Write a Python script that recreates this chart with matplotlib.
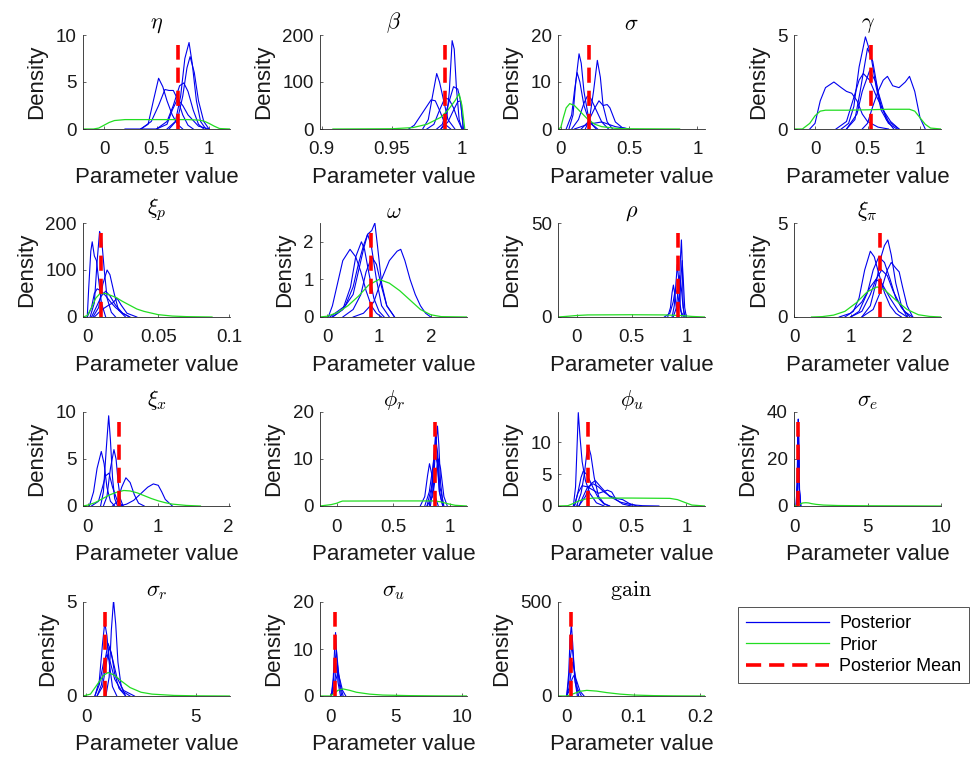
# -*- coding: utf-8 -*-
r"""
Posterior / prior density grid for the estimated model parameters.
"""

#%% Imports
import matplotlib
matplotlib.use('Agg')
import matplotlib.pyplot as plt
from matplotlib.lines import Line2D
from matplotlib.ticker import FormatStrFormatter

plt.rcParams['font.family'] = ['Liberation Sans', 'DejaVu Sans']
plt.rcParams['mathtext.fontset'] = 'cm'

#%% Data
# each posterior chain is (x points, density values); prior is one curve; mean is a scalar
ETA_POST = [
    ([0.35, 0.42, 0.47, 0.52, 0.56, 0.60, 0.65, 0.70, 0.75], [0, 0.5, 3.0, 5.4, 4.5, 3.0, 1.5, 0.5, 0]),
    ([0.35, 0.45, 0.52, 0.58, 0.62, 0.66, 0.70, 0.75, 0.80, 0.85], [0, 0.8, 2.5, 4.2, 4.1, 4.1, 3.2, 1.5, 0.4, 0]),
    ([0.50, 0.60, 0.66, 0.72, 0.76, 0.80, 0.85, 0.90, 0.95], [0, 0.8, 2.5, 4.6, 4.9, 4.0, 2.0, 0.5, 0]),
    ([0.60, 0.68, 0.73, 0.77, 0.81, 0.84, 0.88, 0.92, 0.97], [0, 0.8, 3.5, 7.5, 9.2, 7.0, 3.0, 0.8, 0]),
    ([0.62, 0.70, 0.75, 0.79, 0.82, 0.86, 0.90, 0.95, 1.00], [0, 1.0, 3.5, 6.5, 7.7, 6.0, 3.0, 0.8, 0]),
    ([0.20, 0.50, 0.60, 0.65, 0.70, 0.75, 0.80, 0.90, 1.00], [0, 0, 0.5, 2.0, 3.2, 2.5, 1.5, 0.3, 0]),
]
ETA_PRIOR = ([-0.2, -0.1, -0.05, 0, 0.05, 0.1, 0.2, 0.5, 0.8, 0.9, 0.95, 1.0, 1.05, 1.1, 1.2],
             [0, 0, 0.1, 0.4, 0.7, 0.9, 1.0, 1.0, 1.0, 0.95, 0.85, 0.6, 0.3, 0.05, 0])
ETA_MEAN = 0.70

BETA_POST = [
    ([0.985, 0.989, 0.991, 0.993, 0.9945, 0.996, 0.998, 1.0], [0, 20, 80, 188, 170, 90, 20, 0]),
    ([0.972, 0.976, 0.979, 0.982, 0.984, 0.987, 0.990, 0.995], [0, 20, 70, 118, 100, 60, 20, 0]),
    ([0.962, 0.966, 0.972, 0.978, 0.981, 0.984, 0.988, 0.992], [0, 8, 35, 62, 60, 40, 10, 0]),
    ([0.982, 0.986, 0.990, 0.994, 0.997, 0.999, 1.0, 1.001], [0, 10, 50, 90, 85, 60, 30, 0]),
    ([0.975, 0.980, 0.984, 0.988, 0.991, 0.994, 0.997, 1.0], [0, 10, 40, 67, 62, 45, 20, 0]),
    ([0.985, 0.990, 0.994, 0.997, 0.999, 1.0, 1.001], [0, 15, 40, 58, 60, 30, 0]),
]
BETA_PRIOR = ([0.908, 0.95, 0.965, 0.975, 0.985, 0.99, 0.995, 0.998, 1.0, 1.002],
              [0, 0.5, 3, 10, 25, 40, 60, 75, 50, 0])
BETA_MEAN = 0.988

SIGMA_POST = [
    ([0.06, 0.09, 0.11, 0.134, 0.15, 0.17, 0.20, 0.23, 0.27], [0, 3, 10, 16, 14, 8, 3, 1, 0]),
    ([0.18, 0.21, 0.24, 0.268, 0.29, 0.31, 0.34, 0.38], [0, 2, 8, 14.6, 11, 5, 1.5, 0]),
    ([0.08, 0.13, 0.17, 0.195, 0.22, 0.26, 0.30, 0.35], [0, 2, 5.5, 7, 6.5, 4, 1.5, 0]),
    ([0.15, 0.20, 0.25, 0.28, 0.31, 0.34, 0.36, 0.40, 0.45, 0.50], [0, 1.5, 4.5, 6, 5, 5.2, 4.5, 1.5, 0.3, 0]),
    ([0.04, 0.08, 0.10, 0.12, 0.14, 0.17, 0.21, 0.26], [0, 3, 8, 12, 10, 5, 1.5, 0]),
    ([0.10, 0.20, 0.30, 0.40, 0.50], [0, 1, 1.5, 0.5, 0]),
]
SIGMA_PRIOR = ([-0.02, 0, 0.02, 0.04, 0.066, 0.1, 0.15, 0.2, 0.25, 0.3, 0.4, 0.5, 0.87],
               [0, 0.3, 2.5, 4.5, 5.4, 5.0, 3.5, 2.0, 1.0, 0.5, 0.15, 0.05, 0])
SIGMA_MEAN = 0.207

GAMMA_POST = [
    ([-0.05, 0, 0.05, 0.1, 0.18, 0.25, 0.3, 0.35, 0.4, 0.45, 0.5, 0.6, 0.7], [0, 0.3, 1.5, 2.2, 2.5, 2.2, 2.0, 1.9, 1.5, 0.8, 0.4, 0.1, 0]),
    ([0.25, 0.32, 0.37, 0.42, 0.48, 0.53, 0.58, 0.63, 0.70, 0.78], [0, 0.3, 1.2, 3.3, 4.9, 4.0, 2.3, 1.0, 0.3, 0]),
    ([0.20, 0.30, 0.36, 0.42, 0.46, 0.52, 0.58, 0.65, 0.72, 0.80], [0, 0.4, 1.5, 2.6, 2.95, 2.6, 1.8, 1.0, 0.4, 0]),
    ([0.30, 0.40, 0.45, 0.52, 0.58, 0.63, 0.70, 0.80], [0, 0.8, 2.0, 3.1, 2.5, 1.2, 0.4, 0]),
    ([0.45, 0.50, 0.55, 0.60, 0.65, 0.69, 0.74, 0.80, 0.86, 0.90, 0.95, 1.0, 1.05], [0, 0.3, 1.2, 2.0, 2.6, 2.8, 2.3, 2.2, 2.5, 2.8, 2.0, 0.6, 0]),
    ([0.30, 0.38, 0.43, 0.50, 0.55, 0.60, 0.68, 0.75], [0, 0.5, 2.0, 4.3, 3.6, 2.0, 0.5, 0]),
]
GAMMA_PRIOR = ([-0.2, -0.12, -0.05, 0, 0.05, 0.1, 0.3, 0.5, 0.7, 0.9, 0.95, 1.0, 1.05, 1.1, 1.2],
               [0, 0, 0.3, 0.7, 0.95, 1.0, 1.0, 1.02, 1.05, 1.05, 0.95, 0.6, 0.25, 0.05, 0])
GAMMA_MEAN = 0.53

XIP_POST = [
    ([0, 0.001, 0.0025, 0.0035, 0.005, 0.0065, 0.008, 0.010, 0.013], [0, 60, 140, 160, 130, 120, 80, 30, 0]),
    ([0.002, 0.005, 0.007, 0.0087, 0.010, 0.012, 0.014, 0.017, 0.020], [0, 30, 120, 182, 170, 100, 40, 10, 0]),
    ([0.004, 0.008, 0.011, 0.014, 0.016, 0.019, 0.022, 0.027], [0, 20, 70, 100, 90, 50, 15, 0]),
    ([0, 0.003, 0.005, 0.007, 0.010, 0.013, 0.017, 0.020, 0.025, 0.030], [0, 20, 50, 60, 55, 45, 30, 20, 8, 0]),
    ([0.005, 0.010, 0.015, 0.018, 0.021, 0.024, 0.028, 0.035], [0, 15, 25, 30, 40, 25, 8, 0]),
    ([0.003, 0.007, 0.010, 0.013, 0.016, 0.020, 0.025, 0.030], [0, 25, 45, 55, 45, 25, 8, 0]),
]
XIP_PRIOR = ([-0.003, 0, 0.003, 0.006, 0.009, 0.013, 0.02, 0.025, 0.03, 0.035, 0.04, 0.05, 0.06, 0.07, 0.088],
             [0, 3, 20, 40, 50, 50, 42, 33, 25, 17, 12, 5, 2, 0.8, 0])
XIP_MEAN = 0.0099

OMEGA_POST = [
    ([0.02, 0.1, 0.2, 0.3, 0.44, 0.55, 0.65, 0.75, 0.85, 0.95, 1.05], [0, 0.3, 0.9, 1.5, 1.8, 1.6, 1.2, 0.7, 0.3, 0.1, 0]),
    ([0.1, 0.3, 0.45, 0.55, 0.66, 0.72, 0.8, 0.9, 1.0, 1.1], [0, 0.2, 0.8, 1.6, 2.0, 1.8, 1.2, 0.5, 0.15, 0]),
    ([0.1, 0.3, 0.5, 0.6, 0.7, 0.78, 0.86, 0.92, 0.97, 1.05, 1.15, 1.3], [0, 0.2, 0.6, 1.2, 1.8, 2.2, 2.3, 2.5, 1.9, 0.9, 0.3, 0]),
    ([0.3, 0.5, 0.65, 0.75, 0.86, 0.95, 1.05, 1.15, 1.3], [0, 0.2, 0.6, 1.2, 1.6, 1.4, 0.8, 0.3, 0]),
    ([0.5, 0.7, 0.9, 1.05, 1.2, 1.35, 1.42, 1.5, 1.6, 1.7, 1.8, 1.9, 2.0], [0, 0.1, 0.4, 1.0, 1.5, 1.75, 1.8, 1.5, 1.0, 0.6, 0.3, 0.1, 0]),
    ([0.05, 0.2, 0.35, 0.5, 0.6, 0.7, 0.78, 0.85, 0.95, 1.05, 1.2], [0, 0.15, 0.3, 0.8, 1.4, 1.9, 2.2, 1.9, 1.0, 0.3, 0]),
]
OMEGA_PRIOR = ([-0.14, 0, 0.2, 0.4, 0.6, 0.8, 1.0, 1.2, 1.4, 1.6, 1.8, 2.0, 2.2, 2.7],
               [0, 0.02, 0.12, 0.3, 0.55, 0.85, 1.0, 0.9, 0.7, 0.45, 0.2, 0.06, 0.01, 0])
OMEGA_MEAN = 0.845

RHO_POST = [
    ([0.92, 0.935, 0.945, 0.955, 0.962, 0.97, 0.98], [0, 10, 30, 41, 30, 8, 0]),
    ([0.83, 0.855, 0.87, 0.882, 0.895, 0.91, 0.93], [0, 5, 13, 17, 12, 4, 0]),
    ([0.87, 0.89, 0.905, 0.918, 0.93, 0.945, 0.96], [0, 6, 18, 28, 20, 6, 0]),
    ([0.88, 0.91, 0.925, 0.94, 0.955, 0.97, 0.99], [0, 5, 15, 22, 15, 5, 0]),
    ([0.80, 0.85, 0.88, 0.90, 0.92, 0.95, 0.98], [0, 2, 8, 15, 12, 3, 0]),
    ([0.92, 0.94, 0.952, 0.962, 0.972, 0.985, 1.0], [0, 8, 22, 30, 20, 5, 0]),
]
RHO_PRIOR = ([-0.17, -0.1, 0, 0.1, 0.5, 0.8, 0.95, 1.05, 1.17], [0, 0.3, 0.8, 1.1, 1.2, 1.1, 0.8, 0.3, 0])
RHO_MEAN = 0.925

XIPI_POST = [
    ([0.9, 1.05, 1.15, 1.25, 1.35, 1.42, 1.5, 1.6, 1.7, 1.8, 1.9], [0, 0.3, 1.0, 2.5, 3.5, 3.2, 2.3, 1.3, 0.6, 0.2, 0]),
    ([1.2, 1.35, 1.45, 1.55, 1.6, 1.66, 1.72, 1.8, 1.9, 2.0], [0, 0.6, 1.8, 3.3, 3.8, 4.1, 3.3, 1.8, 0.6, 0]),
    ([1.0, 1.15, 1.3, 1.4, 1.5, 1.6, 1.7, 1.8, 1.95, 2.1], [0, 0.3, 1.3, 2.5, 3.2, 2.9, 2.0, 1.0, 0.3, 0]),
    ([1.2, 1.4, 1.55, 1.65, 1.72, 1.8, 1.86, 1.92, 2.0, 2.1], [0, 0.4, 1.5, 2.5, 2.9, 2.6, 2.4, 1.6, 0.6, 0]),
    ([1.0, 1.2, 1.35, 1.45, 1.55, 1.65, 1.75, 1.9, 2.05], [0, 0.3, 1.2, 2.0, 2.5, 2.2, 1.4, 0.5, 0]),
    ([0.8, 1.0, 1.2, 1.35, 1.45, 1.55, 1.7, 1.85, 2.0], [0, 0.2, 0.8, 1.6, 2.0, 1.8, 1.0, 0.3, 0]),
]
XIPI_PRIOR = ([0.31, 0.5, 0.7, 0.9, 1.1, 1.3, 1.47, 1.6, 1.8, 2.0, 2.2, 2.4, 2.6],
              [0, 0.02, 0.1, 0.3, 0.75, 1.35, 1.6, 1.45, 0.9, 0.4, 0.12, 0.03, 0])
XIPI_MEAN = 1.525

XIX_POST = [
    ([0.02, 0.08, 0.13, 0.19, 0.23, 0.27, 0.32, 0.38], [0, 1.5, 4.0, 5.8, 4.5, 2.0, 0.5, 0]),
    ([0.18, 0.22, 0.26, 0.295, 0.32, 0.35, 0.38, 0.42], [0, 1.5, 6.0, 9.6, 7.0, 3.0, 0.8, 0]),
    ([0.22, 0.27, 0.32, 0.37, 0.40, 0.43, 0.46, 0.50], [0, 1.0, 4.0, 6.0, 5.0, 2.5, 0.8, 0]),
    ([0.35, 0.42, 0.48, 0.54, 0.60, 0.66, 0.72, 0.80], [0, 0.5, 2.0, 3.0, 2.5, 1.2, 0.3, 0]),
    ([0.45, 0.55, 0.65, 0.75, 0.85, 0.93, 1.0, 1.05, 1.1, 1.2], [0, 0.2, 0.6, 1.3, 2.0, 2.35, 2.2, 1.5, 0.7, 0]),
    ([0.05, 0.15, 0.20, 0.25, 0.30, 0.35, 0.42, 0.50], [0, 0.5, 1.8, 3.2, 3.5, 2.0, 0.5, 0]),
]
XIX_PRIOR = ([-0.07, 0, 0.1, 0.2, 0.3, 0.4, 0.51, 0.6, 0.7, 0.8, 0.9, 1.0, 1.1, 1.2, 1.4, 1.6],
             [0, 0.1, 0.35, 0.75, 1.15, 1.45, 1.65, 1.6, 1.4, 1.1, 0.8, 0.55, 0.35, 0.2, 0.06, 0])
XIX_MEAN = 0.44

PHIR_POST = [
    ([0.83, 0.855, 0.875, 0.893, 0.905, 0.92, 0.945], [0, 4, 12, 17, 13, 5, 0]),
    ([0.74, 0.78, 0.805, 0.822, 0.84, 0.86, 0.90], [0, 2, 6.5, 9, 7, 3, 0]),
    ([0.80, 0.84, 0.865, 0.88, 0.895, 0.915, 0.95], [0, 4, 10, 14, 11, 4, 0]),
    ([0.78, 0.82, 0.85, 0.87, 0.89, 0.91, 0.94], [0, 3, 8, 12, 9, 3, 0]),
    ([0.80, 0.85, 0.88, 0.90, 0.92, 0.95, 0.98], [0, 2, 7, 10, 8, 2, 0]),
    ([0.82, 0.845, 0.862, 0.875, 0.89, 0.91, 0.94], [0, 4, 11, 15, 11, 3, 0]),
]
PHIR_PRIOR = ([-0.15, -0.05, 0, 0.03, 0.05, 0.5, 0.85, 0.92, 0.98, 1.05, 1.155],
              [0, 0.3, 0.6, 0.9, 1.05, 1.08, 1.08, 0.9, 0.5, 0.15, 0])
PHIR_MEAN = 0.867

PHIU_POST = [
    ([-0.03, -0.01, 0.005, 0.015, 0.03, 0.05, 0.08, 0.12, 0.18, 0.25], [0, 3, 10, 14.7, 11, 7, 4, 2, 0.5, 0]),
    ([0.0, 0.04, 0.07, 0.09, 0.11, 0.13, 0.16, 0.20, 0.25, 0.30], [0, 2, 5, 8, 9.3, 8, 4.5, 1.5, 0.4, 0]),
    ([-0.02, 0.01, 0.04, 0.06, 0.09, 0.12, 0.16, 0.20, 0.25, 0.30], [0, 2, 4.5, 5.5, 5.0, 4.0, 2.5, 1.2, 0.3, 0]),
    ([-0.02, 0.01, 0.05, 0.10, 0.15, 0.20, 0.25, 0.28, 0.32, 0.36, 0.42, 0.50], [0, 2, 3.2, 3.0, 2.5, 2.0, 2.3, 2.5, 2.2, 1.0, 0.3, 0]),
    ([0.02, 0.06, 0.10, 0.15, 0.20, 0.25, 0.30, 0.36, 0.42, 0.48, 0.55], [0, 1.5, 3.0, 3.5, 3.0, 2.2, 1.6, 1.2, 1.0, 0.4, 0]),
    ([0.02, 0.08, 0.13, 0.17, 0.22, 0.30, 0.40, 0.50, 0.60, 0.75], [0, 1.5, 3.5, 4.0, 3.0, 1.5, 0.6, 0.2, 0.05, 0]),
]
PHIU_PRIOR = ([-0.166, -0.08, -0.03, 0.02, 0.08, 0.15, 0.5, 0.85, 0.92, 0.98, 1.05, 1.17],
              [0, 0.05, 0.4, 0.8, 1.1, 1.25, 1.25, 1.2, 1.0, 0.6, 0.15, 0])
PHIU_MEAN = 0.10

SIGE_POST = [
    ([0.15, 0.22, 0.26, 0.29, 0.32, 0.36, 0.45], [0, 10, 28, 37, 25, 8, 0]),
    ([0.16, 0.23, 0.27, 0.30, 0.33, 0.37, 0.46], [0, 9, 26, 35, 24, 7, 0]),
    ([0.14, 0.21, 0.25, 0.28, 0.31, 0.35, 0.44], [0, 9, 25, 33, 22, 7, 0]),
    ([0.17, 0.24, 0.28, 0.31, 0.34, 0.38, 0.47], [0, 8, 22, 30, 20, 6, 0]),
]
SIGE_PRIOR = ([0, 0.2, 0.4, 0.6, 0.8, 1.0, 1.2, 1.5, 2, 3, 5, 8, 10],
              [0, 0.3, 0.8, 1.3, 1.4, 1.3, 1.0, 0.7, 0.4, 0.2, 0.1, 0.05, 0])
SIGE_MEAN = 0.27

SIGR_POST = [
    ([0.9, 1.05, 1.15, 1.25, 1.35, 1.45, 1.6, 1.8], [0, 1.0, 3.5, 5.1, 3.8, 1.8, 0.5, 0]),
    ([0.4, 0.6, 0.75, 0.85, 0.95, 1.05, 1.2, 1.4], [0, 0.8, 2.8, 3.9, 3.2, 1.8, 0.5, 0]),
    ([0.5, 0.7, 0.85, 1.0, 1.15, 1.3, 1.5, 1.8], [0, 0.6, 1.8, 2.8, 2.3, 1.2, 0.4, 0]),
    ([0.5, 0.75, 0.9, 1.05, 1.2, 1.4, 1.7, 2.2], [0, 0.5, 1.6, 2.6, 2.0, 1.0, 0.3, 0]),
    ([0.4, 0.6, 0.8, 0.95, 1.1, 1.3, 1.6, 2.0], [0, 0.6, 1.8, 2.2, 1.8, 0.9, 0.3, 0]),
]
SIGR_PRIOR = ([-0.14, 0.2, 0.5, 0.8, 1.0, 1.3, 1.6, 2.0, 2.5, 3.0, 4.0, 5.0, 6.55],
              [0, 0.1, 0.6, 1.1, 1.25, 1.1, 0.8, 0.45, 0.2, 0.1, 0.03, 0.01, 0])
SIGR_MEAN = 0.88

SIGU_POST = [
    ([0.1, 0.25, 0.35, 0.42, 0.5, 0.6, 0.8], [0, 4, 10, 13.5, 9, 3, 0]),
    ([0.1, 0.25, 0.38, 0.48, 0.58, 0.7, 0.9], [0, 3, 7, 10, 7, 2.5, 0]),
    ([0.1, 0.3, 0.45, 0.55, 0.65, 0.8, 1.0], [0, 2, 5, 7, 5, 2, 0]),
    ([0.1, 0.3, 0.45, 0.6, 0.75, 0.95, 1.2], [0, 1.5, 3.5, 5, 3.5, 1.2, 0]),
]
SIGU_PRIOR = ([-0.76, 0, 0.3, 0.6, 1.0, 1.5, 2.0, 3.0, 4.0, 6.0, 8.0, 10.4],
              [0, 0, 0.5, 1.2, 1.5, 1.2, 0.8, 0.4, 0.2, 0.08, 0.03, 0])
SIGU_MEAN = 0.38

GAIN_POST = [
    ([0.0, 0.003, 0.005, 0.007, 0.009, 0.012, 0.016], [0, 120, 300, 380, 280, 90, 0]),
    ([0.0, 0.003, 0.006, 0.008, 0.010, 0.013, 0.018], [0, 80, 220, 270, 200, 70, 0]),
    ([0.0, 0.004, 0.007, 0.009, 0.012, 0.016, 0.022], [0, 50, 140, 180, 130, 40, 0]),
    ([0.0, 0.004, 0.008, 0.011, 0.015, 0.020, 0.026], [0, 30, 90, 110, 80, 25, 0]),
]
GAIN_PRIOR = ([-0.013, 0, 0.01, 0.02, 0.03, 0.045, 0.06, 0.08, 0.1, 0.13, 0.16, 0.207],
              [0, 0, 12, 25, 30, 26, 18, 10, 5, 2, 0.8, 0])
GAIN_MEAN = 0.006

LABELS = ['Posterior', 'Prior', 'Posterior Mean']

#%% Panel settings: title, data, x limits, y limits, x ticks, y ticks
PANELS = [
    (r'$\eta$', ETA_POST, ETA_PRIOR, ETA_MEAN, (-0.2, 1.2), (0, 10), [0, 0.5, 1], [0, 5, 10]),
    (r'$\beta$', BETA_POST, BETA_PRIOR, BETA_MEAN, (0.8988, 1.0036), (0, 200), [0.9, 0.95, 1], [0, 100, 200]),
    (r'$\sigma$', SIGMA_POST, SIGMA_PRIOR, SIGMA_MEAN, (-0.02, 1.056), (0, 20), [0, 0.5, 1], [0, 10, 20]),
    (r'$\gamma$', GAMMA_POST, GAMMA_PRIOR, GAMMA_MEAN, (-0.2, 1.2), (0, 5), [0, 0.5, 1], [0, 5]),
    (r'$\xi_p$', XIP_POST, XIP_PRIOR, XIP_MEAN, (-0.003, 0.1007), (0, 200), [0, 0.05, 0.1], [0, 100, 200]),
    (r'$\omega$', OMEGA_POST, OMEGA_PRIOR, OMEGA_MEAN, (-0.14, 2.7), (0, 2.5), [0, 1, 2], [0, 1, 2]),
    (r'$\rho$', RHO_POST, RHO_PRIOR, RHO_MEAN, (-0.17, 1.17), (0, 50), [0, 0.5, 1], [0, 50]),
    (r'$\xi_\pi$', XIPI_POST, XIPI_PRIOR, XIPI_MEAN, (0, 2.6), (0, 5), [0, 1, 2], [0, 5]),
    (r'$\xi_x$', XIX_POST, XIX_PRIOR, XIX_MEAN, (-0.07, 2.02), (0, 10), [0, 1, 2], [0, 5, 10]),
    (r'$\phi_r$', PHIR_POST, PHIR_PRIOR, PHIR_MEAN, (-0.15, 1.155), (0, 20), [0, 0.5, 1], [0, 10, 20]),
    (r'$\phi_u$', PHIU_POST, PHIU_PRIOR, PHIU_MEAN, (-0.17, 1.17), (0, 14.8), [0, 0.5, 1], [0, 5, 10]),
    (r'$\sigma_e$', SIGE_POST, SIGE_PRIOR, SIGE_MEAN, (0, 10), (0, 40), [0, 5, 10], [0, 20, 40]),
    (r'$\sigma_r$', SIGR_POST, SIGR_PRIOR, SIGR_MEAN, (-0.14, 6.55), (0, 5), [0, 5], [0, 5]),
    (r'$\sigma_u$', SIGU_POST, SIGU_PRIOR, SIGU_MEAN, (-0.76, 10.4), (0, 20), [0, 5, 10], [0, 10, 20]),
    (r'$\mathrm{gain}$', GAIN_POST, GAIN_PRIOR, GAIN_MEAN, (-0.013, 0.207), (0, 500), [0, 0.1, 0.2], [0, 500]),
]

#%% Styles
COLOR = {'post': '#0000ee', 'prior': '#22dd22', 'mean': '#ff0000', 'axis': '#262626'}
FIG_W, FIG_H = 971, 759
COL_LEFT = [83, 320, 558, 794]
ROW_TOP = [35, 223, 412, 602]
AX_W, AX_H = 147, 94
MEAN_FRAC = 0.89

#%% plot_panel
def plot_panel(ax, title, post, prior, mean, xlim, ylim, xticks, yticks):
    for (xs, ys) in post:
        ax.plot(xs, ys, color=COLOR['post'], linewidth=0.8)
    ax.plot(prior[0], prior[1], color=COLOR['prior'], linewidth=0.9)
    ax.plot([mean, mean], [0, MEAN_FRAC * ylim[1]], color=COLOR['mean'], linewidth=2.6, dashes=(4.2, 2.2))
    ax.set_xlim(*xlim)
    ax.set_ylim(*ylim)
    ax.set_xticks(xticks)
    ax.set_yticks(yticks)
    ax.xaxis.set_major_formatter(FormatStrFormatter('%g'))
    ax.yaxis.set_major_formatter(FormatStrFormatter('%g'))
    for side in ('top', 'right'):
        ax.spines[side].set_visible(False)
    for side in ('left', 'bottom'):
        ax.spines[side].set_color(COLOR['axis'])
        ax.spines[side].set_linewidth(0.6)
    ax.tick_params(axis='both', direction='in', length=2.5, width=0.5, color=COLOR['axis'],
                   labelsize=13.5, labelcolor='#1a1a1a')
    ax.tick_params(axis='x', pad=9)
    ax.tick_params(axis='y', pad=4.5)
    ax.set_title(title, fontsize=16, pad=2.5)
    ax.set_xlabel('Parameter value', fontsize=16, labelpad=6, color='#1a1a1a')
    ax.set_ylabel('Density', fontsize=16, labelpad=6, color='#1a1a1a')

#%% Main
fig = plt.figure(figsize=(FIG_W / 100, FIG_H / 100), dpi=100)
for (i, panel) in enumerate(PANELS):
    row, col = divmod(i, 4)
    rect = [COL_LEFT[col] / FIG_W, 1 - (ROW_TOP[row] + AX_H) / FIG_H, AX_W / FIG_W, AX_H / FIG_H]
    ax = fig.add_axes(rect)
    plot_panel(ax, *panel)

handles = [Line2D([], [], color=COLOR['post'], linewidth=0.9),
           Line2D([], [], color=COLOR['prior'], linewidth=0.9),
           Line2D([], [], color=COLOR['mean'], linewidth=2.6, dashes=(4.2, 2.2))]
leg = fig.legend(handles, LABELS, loc='upper left', bbox_to_anchor=(738 / FIG_W, 1 - 607 / FIG_H),
                 fontsize=13, frameon=True, fancybox=False, handlelength=4.6, borderaxespad=0,
                 borderpad=0.45, labelspacing=0.25, handletextpad=0.55)
leg.get_frame().set_edgecolor('#262626')
leg.get_frame().set_linewidth(0.7)

fig.savefig('out.png', dpi=100)
